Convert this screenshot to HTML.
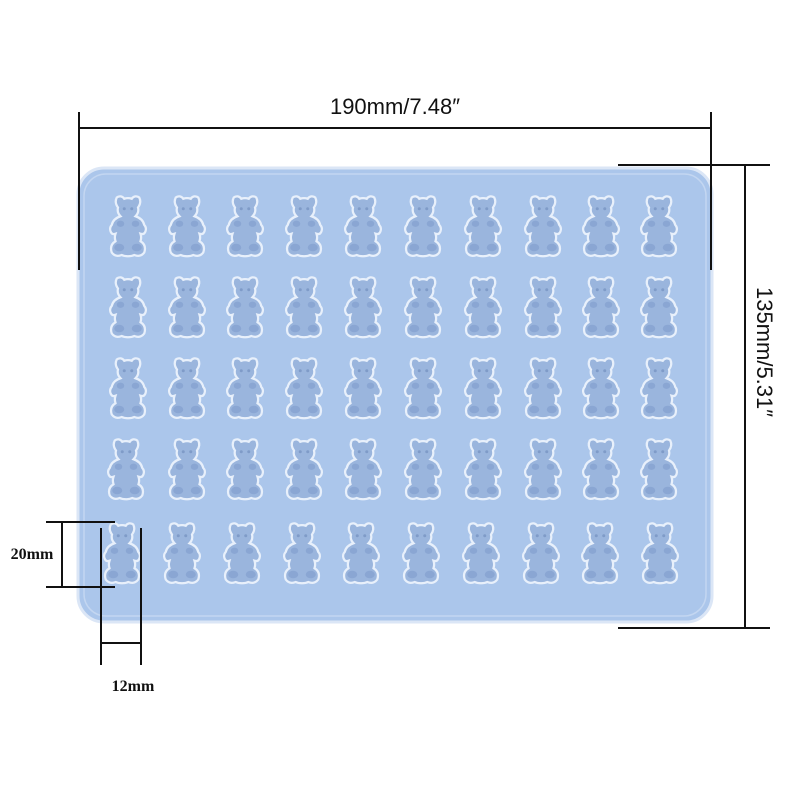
<!DOCTYPE html>
<html><head><style>
body{margin:0;background:#fff;}
svg{display:block}
</style></head><body>
<svg width="800" height="800" viewBox="0 0 800 800" xmlns="http://www.w3.org/2000/svg">
<defs>
<g id="bear" transform="scale(1.25)">
 <path d="M-9,-22 a4,4 0 0 1 6,1 q3,-1 6,0 a4,4 0 0 1 6,-1 q2,4 -1,8 q1,4 -2,7 q6,2 7,7 q2,2 1,5 q-1,3 -4,2 q1,3 0,6 q5,3 3,9 q-3,4 -8,2 q-2,1 -5,1 q-3,0 -5,-1 q-5,2 -8,-2 q-2,-6 3,-9 q-1,-3 0,-6 q-3,1 -4,-2 q-1,-3 1,-5 q1,-5 7,-7 q-3,-3 -2,-7 q-3,-4 -1,-8z" fill="#9ab5dd" stroke="#e8f0fb" stroke-width="1.8"/>
 <circle cx="-3" cy="-13" r="1.2" fill="#7f9bc8"/><circle cx="3" cy="-13" r="1.2" fill="#7f9bc8"/>
 <ellipse cx="-6" cy="-1" rx="3" ry="2.5" fill="#8aa6d3"/><ellipse cx="6" cy="-1" rx="3" ry="2.5" fill="#8aa6d3"/>
 <ellipse cx="-7" cy="18" rx="4" ry="3" fill="#8aa6d3"/><ellipse cx="7" cy="18" rx="4" ry="3" fill="#8aa6d3"/>
</g>
</defs>
<rect x="78" y="168" width="634" height="454" rx="26" fill="#abc6eb" stroke="#dbe6f6" stroke-width="3"/>
<rect x="84" y="174" width="622" height="442" rx="22" fill="none" stroke="#c3d6f1" stroke-width="1.5"/>
<g>
<use href="#bear" x="128" y="225"/><use href="#bear" x="187" y="225"/><use href="#bear" x="245" y="225"/><use href="#bear" x="304" y="225"/><use href="#bear" x="363" y="225"/><use href="#bear" x="423" y="225"/><use href="#bear" x="483" y="225"/><use href="#bear" x="543" y="225"/><use href="#bear" x="601" y="225"/><use href="#bear" x="659" y="225"/>
<use href="#bear" x="128" y="306"/><use href="#bear" x="187" y="306"/><use href="#bear" x="245" y="306"/><use href="#bear" x="304" y="306"/><use href="#bear" x="363" y="306"/><use href="#bear" x="423" y="306"/><use href="#bear" x="483" y="306"/><use href="#bear" x="543" y="306"/><use href="#bear" x="601" y="306"/><use href="#bear" x="659" y="306"/>
<use href="#bear" x="128" y="387"/><use href="#bear" x="187" y="387"/><use href="#bear" x="245" y="387"/><use href="#bear" x="304" y="387"/><use href="#bear" x="363" y="387"/><use href="#bear" x="423" y="387"/><use href="#bear" x="483" y="387"/><use href="#bear" x="543" y="387"/><use href="#bear" x="601" y="387"/><use href="#bear" x="659" y="387"/>
<use href="#bear" x="126" y="468"/><use href="#bear" x="187" y="468"/><use href="#bear" x="245" y="468"/><use href="#bear" x="304" y="468"/><use href="#bear" x="363" y="468"/><use href="#bear" x="423" y="468"/><use href="#bear" x="483" y="468"/><use href="#bear" x="543" y="468"/><use href="#bear" x="601" y="468"/><use href="#bear" x="659" y="468"/>
<use href="#bear" x="122" y="552"/><use href="#bear" x="182" y="552"/><use href="#bear" x="242" y="552"/><use href="#bear" x="302" y="552"/><use href="#bear" x="361" y="552"/><use href="#bear" x="421" y="552"/><use href="#bear" x="481" y="552"/><use href="#bear" x="541" y="552"/><use href="#bear" x="600" y="552"/><use href="#bear" x="660" y="552"/>
</g>
<g stroke="#111" stroke-width="2" fill="none">
 <line x1="79" y1="128" x2="711" y2="128"/>
 <line x1="79" y1="112" x2="79" y2="270"/>
 <line x1="711" y1="112" x2="711" y2="270"/>
 <line x1="745" y1="165" x2="745" y2="628"/>
 <line x1="618" y1="165" x2="770" y2="165"/>
 <line x1="618" y1="628" x2="770" y2="628"/>
 <line x1="46" y1="522" x2="115" y2="522"/>
 <line x1="46" y1="587" x2="115" y2="587"/>
 <line x1="62" y1="522" x2="62" y2="587"/>
 <line x1="101" y1="528" x2="101" y2="665"/>
 <line x1="141" y1="528" x2="141" y2="665"/>
 <line x1="101" y1="643" x2="141" y2="643"/>
</g>
<text x="395" y="114" font-family="Liberation Sans, sans-serif" font-size="22" text-anchor="middle" fill="#111">190mm/7.48″</text>
<text transform="translate(757,352) rotate(90)" font-family="Liberation Sans, sans-serif" font-size="22" text-anchor="middle" fill="#111">135mm/5.31″</text>
<text x="32" y="559" font-family="Liberation Serif, serif" font-weight="bold" font-size="16" text-anchor="middle" fill="#111">20mm</text>
<text x="133" y="691" font-family="Liberation Serif, serif" font-weight="bold" font-size="16" text-anchor="middle" fill="#111">12mm</text>
</svg>
</body></html>
